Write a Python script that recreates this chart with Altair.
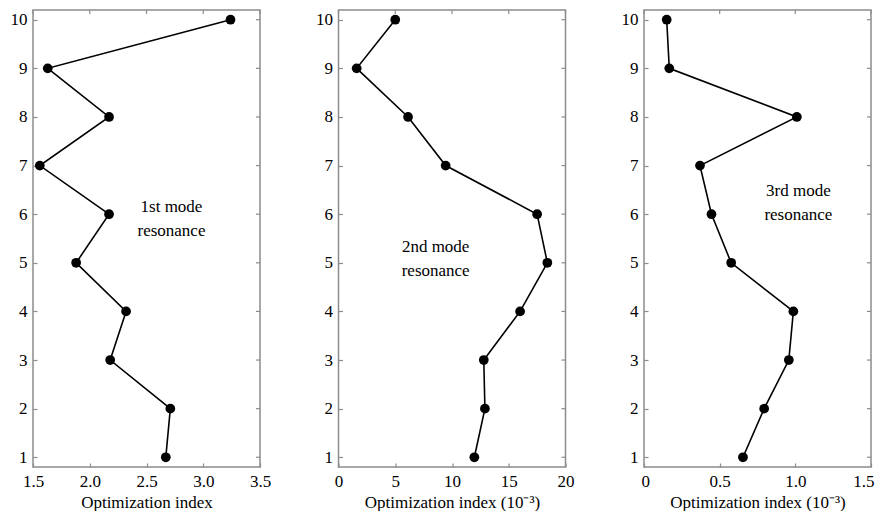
import altair as alt
import pandas as pd

levels = list(range(1, 11))
mode1 = [2.67, 2.71, 2.18, 2.32, 1.88, 2.17, 1.56, 2.17, 1.63, 3.24]
mode2 = [11.97, 12.9, 12.8, 16.0, 18.4, 17.5, 9.44, 6.13, 1.6, 5.0]
mode3 = [0.654, 0.794, 0.957, 0.987, 0.576, 0.446, 0.37, 1.01, 0.167, 0.15]

x_domains = [[1.5, 3.5], [0, 20], [0, 1.5]]
x_ticks = [[1.5, 2.0, 2.5, 3.0, 3.5], [0, 5, 10, 15, 20], [0, 0.5, 1.0, 1.5]]
x_label_expr = [
    "format(datum.value, '.1f')",
    "format(datum.value, 'd')",
    "datum.value == 0 ? '0' : format(datum.value, '.1f')",
]
x_titles = ["Optimization index", "Optimization index (10⁻³)", "Optimization index (10⁻³)"]
notes = [["1st mode", "resonance"], ["2nd mode", "resonance"], ["3rd mode", "resonance"]]
note_x = [2.72, 8.56, 1.02]
note_y = [6.15, 5.33, 6.47]
y_domain = [0.8, 10.2]
y_ticks = list(range(1, 11))

FONT = "Liberation Serif"
GRAY = "#8c8c8c"
W, H = 227, 457
TK = 4


def panel(values, i):
    df = pd.DataFrame({"x": values, "y": levels})
    xs = alt.Scale(domain=x_domains[i], nice=False, zero=False)
    ys = alt.Scale(domain=y_domain, nice=False, zero=False)
    flush = dict(labelFlush=True, labelFlushOffset=3) if i == 2 else dict(labelFlush=False)
    ax_bottom = alt.Axis(values=x_ticks[i], labelExpr=x_label_expr[i], title=x_titles[i],
                         labelFont=FONT, titleFont=FONT, labelFontSize=17, titleFontSize=17,
                         labelColor="black", titleColor="black", titleFontWeight="normal",
                         tickColor=GRAY, tickWidth=1.2, offset=-TK, tickSize=TK,
                         domain=False, grid=False, labelPadding=6, titlePadding=5, **flush)
    ax_left = alt.Axis(values=y_ticks, title=None,
                       labelFont=FONT, labelFontSize=17, labelColor="black",
                       tickColor=GRAY, tickWidth=1.2, offset=-TK, tickSize=TK,
                       domain=False, grid=False, labelPadding=6)
    line = alt.Chart(df).mark_line(color="black", strokeWidth=1.6).encode(
        x=alt.X("x:Q", scale=xs, axis=ax_bottom),
        y=alt.Y("y:Q", scale=ys, axis=ax_left),
        order="y:Q",
    )
    pts = alt.Chart(df).mark_point(filled=True, color="black", size=95, opacity=1).encode(
        x=alt.X("x:Q", scale=xs, axis=ax_bottom),
        y=alt.Y("y:Q", scale=ys, axis=ax_left),
    )
    top_ticks = alt.Chart(pd.DataFrame({"x": x_ticks[i]})).mark_rule(
        color=GRAY, strokeWidth=1.2).encode(
        x=alt.X("x:Q", scale=xs, axis=ax_bottom), y=alt.value(0), y2=alt.value(TK))
    right_ticks = alt.Chart(pd.DataFrame({"y": y_ticks})).mark_rule(
        color=GRAY, strokeWidth=1.2).encode(
        y=alt.Y("y:Q", scale=ys, axis=ax_left), x=alt.value(W - TK), x2=alt.value(W))
    ndf = pd.DataFrame({"x": [note_x[i]], "y": [note_y[i]], "t": [notes[i]]})
    txt = alt.Chart(ndf).mark_text(font=FONT, fontSize=17, lineHeight=24, color="black",
                                   align="center", baseline="middle").encode(
        x=alt.X("x:Q", scale=xs, axis=ax_bottom),
        y=alt.Y("y:Q", scale=ys, axis=ax_left),
        text="t",
    )
    return alt.layer(line, pts, top_ticks, right_ticks, txt).properties(width=W, height=H)


chart = alt.hconcat(panel(mode1, 0), panel(mode2, 1), panel(mode3, 2), spacing=78.5,
                    bounds="flush").properties(
    padding={"left": 1, "top": 0, "right": 0, "bottom": 0}
).configure_view(stroke=GRAY, strokeWidth=1.5)

chart.save("out.html", embed_options={"renderer": "svg", "actions": False})
